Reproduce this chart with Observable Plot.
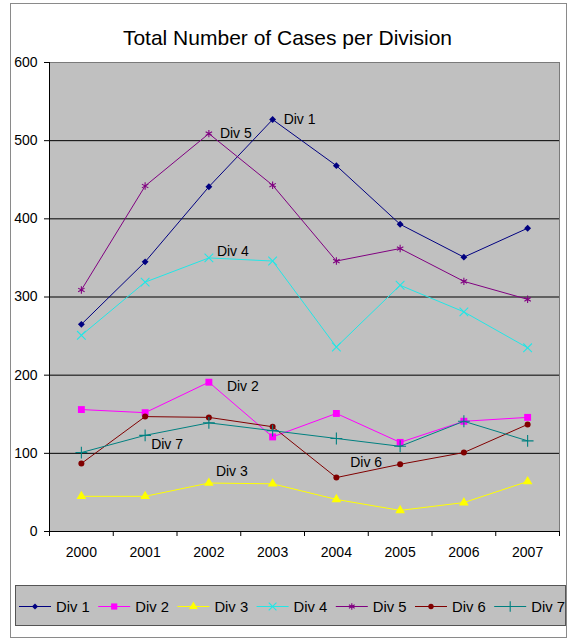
<!DOCTYPE html>
<html>
<head>
<meta charset="utf-8">
<script src="https://cdn.jsdelivr.net/npm/d3@7"></script>
<script src="https://cdn.jsdelivr.net/npm/@observablehq/plot@0.6"></script>
<style>
  html, body { margin: 0; padding: 0; background: #fff; }
  body { width: 569px; height: 638px; position: relative; overflow: hidden;
         font-family: "Liberation Sans", Arial, sans-serif; color: #000; }
  #chart { position: absolute; left: 0; top: 0; }
  #title { position: absolute; left: 3px; width: 569px; top: 27px; text-align: center;
           font-size: 21px; line-height: 1; white-space: nowrap; }
  #frame { position: absolute; left: 10px; top: 3px; width: 555px; height: 633px;
           border: 1px solid #8a8a8a; pointer-events: none; }
  #legend { position: absolute; left: 15px; top: 585px; width: 551px; height: 41px;
            background: #c0c0c0; border: 1px solid #555; box-sizing: border-box; overflow: hidden; }
</style>
</head>
<body>
<div id="chart"></div>
<div id="title">Total Number of Cases per Division</div>
<div id="legend"></div>
<div id="frame"></div>
<script>
// Yearly case counts for each division
const years = [2000, 2001, 2002, 2003, 2004, 2005, 2006, 2007];
const div1 = [265, 345, 441, 527, 468, 393, 351, 388];
const div2 = [156, 152, 191, 121, 151, 114, 141, 146];
const div3 = [45, 45, 62, 61, 41, 27, 37, 64];
const div4 = [251, 319, 350, 346, 236, 315, 281, 235];
const div5 = [309, 442, 509, 443, 346, 362, 320, 297];
const div6 = [87, 147, 146, 134, 69, 86, 101, 137];
const div7 = [101, 123, 139, 129, 119, 109, 141, 116];

const seriesNames = ["Div 1", "Div 2", "Div 3", "Div 4", "Div 5", "Div 6", "Div 7"];
const seriesValues = [div1, div2, div3, div4, div5, div6, div7];
const yTicks = [0, 100, 200, 300, 400, 500, 600];

// Appearance of each series: colour, marker symbol, whether the marker is filled, marker radius
const seriesStyle = [
  {color: "#000080", symbol: "diamond2", filled: true,  r: 3.1},
  {color: "#ff00ff", symbol: "square",   filled: true,  r: 3.9},
  {color: "#ffff00", symbol: "triangle", filled: true,  r: 3.6},
  {color: "#22e6e6", symbol: "times",    filled: false, r: 4},
  {color: "#800080", symbol: "asterisk", filled: false, r: 3.5},
  {color: "#800000", symbol: "circle",   filled: true,  r: 3},
  {color: "#008080", symbol: "plus",     filled: false, r: 3.9}
];

// Where each in-chart series label sits relative to one of its points
const labelPlacement = [
  {name: "Div 1", year: 2003, dx: 11, dy: 0,   anchor: "start"},
  {name: "Div 5", year: 2002, dx: 11, dy: 0,   anchor: "start"},
  {name: "Div 4", year: 2002, dx: 8,  dy: -6,  anchor: "start"},
  {name: "Div 2", year: 2002, dx: 18, dy: 4,   anchor: "start"},
  {name: "Div 7", year: 2001, dx: 6,  dy: 9,   anchor: "start"},
  {name: "Div 3", year: 2002, dx: 7,  dy: -12, anchor: "start"},
  {name: "Div 6", year: 2005, dx: -18, dy: -2, anchor: "end"}
];

// Long-form table built from the arrays above
const rows = seriesNames.flatMap((name, i) =>
  years.map((year, j) => ({name, year, value: seriesValues[i][j]})));

// Category bands: each year occupies one unit, tick marks sit on the band edges
const xDomain = [years[0] - 0.5, years[years.length - 1] + 0.5];
const bandEdges = d3.range(xDomain[0], xDomain[1] + 0.01, 1);

const marks = [
  Plot.frame({fill: "#c0c0c0", stroke: "#7a7a7a"}),
  Plot.ruleY(yTicks.filter(d => d > 0 && d < d3.max(yTicks)), {stroke: "#000", strokeWidth: 1}),
  Plot.ruleX([xDomain[0]], {stroke: "#000"}),
  Plot.ruleY([0], {stroke: "#000"}),
  Plot.axisY(yTicks, {tickSize: 5, tickPadding: 7, fontSize: 14, stroke: "#000", label: null}),
  Plot.axisX(bandEdges, {tickSize: 5, tickFormat: () => "", stroke: "#000", label: null}),
  Plot.axisX(years, {tickSize: 0, tickPadding: 16, fontSize: 14, tickFormat: d => String(d), label: null})
];

seriesNames.forEach((name, i) => {
  const s = seriesStyle[i];
  const data = rows.filter(d => d.name === name);
  marks.push(Plot.line(data, {x: "year", y: "value", stroke: s.color, strokeWidth: 1}));
  marks.push(Plot.dot(data, s.filled
    ? {x: "year", y: "value", symbol: () => s.symbol, fill: s.color, stroke: "none", r: s.r}
    : {x: "year", y: "value", symbol: () => s.symbol, stroke: s.color, fill: "none", strokeWidth: 1.1, r: s.r}));
});

// Series name labels beside the lines, each drawn with its own offset
labelPlacement.forEach(p => {
  const i = seriesNames.indexOf(p.name);
  const row = {name: p.name, year: p.year, value: seriesValues[i][years.indexOf(p.year)]};
  marks.push(Plot.text([row], {
    x: "year", y: "value", text: "name", textAnchor: p.anchor,
    dx: p.dx, dy: p.dy, fontSize: 14, fill: "#000"
  }));
});

const chart = Plot.plot({
  width: 569,
  height: 570,
  marginTop: 62,
  marginBottom: 39,
  marginLeft: 49,
  marginRight: 10,
  x: {type: "linear", domain: xDomain, axis: null, label: null},
  y: {domain: [0, d3.max(yTicks)], axis: null, label: null},
  symbol: {type: "identity"},
  style: {background: "transparent", fontFamily: "'Liberation Sans', Arial, sans-serif", fontSize: "14px", color: "#000"},
  marks
});
document.getElementById("chart").appendChild(chart);

// Legend: a short line with the series marker, then the series name
const symbolTypes = {
  diamond2: d3.symbolDiamond2, square: d3.symbolSquare, triangle: d3.symbolTriangle,
  times: d3.symbolTimes, asterisk: d3.symbolAsterisk, circle: d3.symbolCircle, plus: d3.symbolPlus
};
const legendSvg = d3.select("#legend").append("svg")
  .attr("width", 551).attr("height", 41)
  .style("display", "block");
const itemStep = 79.2, lineStart = 3, lineLen = 32, midY = 20.5;
seriesNames.forEach((name, i) => {
  const s = seriesStyle[i];
  const g = legendSvg.append("g").attr("transform", `translate(${lineStart + i * itemStep},0)`);
  g.append("line").attr("x1", 0).attr("x2", lineLen).attr("y1", midY).attr("y2", midY)
    .attr("stroke", s.color).attr("stroke-width", 1);
  const path = d3.symbol(symbolTypes[s.symbol], Math.PI * s.r * s.r * 0.8)();
  g.append("path").attr("d", path).attr("transform", `translate(${lineLen / 2},${midY})`)
    .attr("fill", s.filled ? s.color : "none")
    .attr("stroke", s.filled ? "none" : s.color).attr("stroke-width", 1.1);
  g.append("text").attr("x", lineLen + 5).attr("y", midY).attr("dy", "0.35em")
    .attr("font-size", 14.8).attr("font-family", "'Liberation Sans', Arial, sans-serif")
    .attr("fill", "#000").text(name);
});
</script>
</body>
</html>
